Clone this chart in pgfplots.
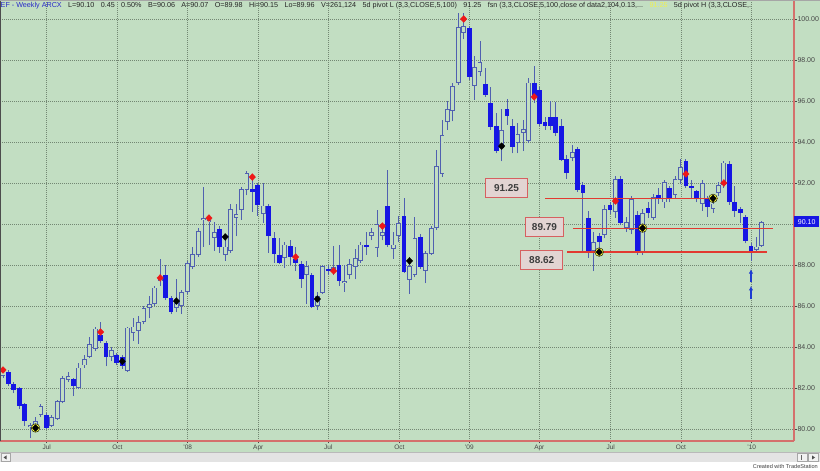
\documentclass[border=0pt]{standalone}
\usepackage{pgfplots}
\pgfplotsset{compat=1.18}
\usepackage{pgfplotstable}
\usepackage{fontspec}
\setmainfont{Liberation Sans}
\usetikzlibrary{arrows.meta}
\definecolor{bg}{RGB}{194,222,194}
\definecolor{wick}{RGB}{80,96,176}
\definecolor{body}{RGB}{22,22,228}
\definecolor{axred}{RGB}{212,112,108}
\definecolor{lvl}{RGB}{226,58,48}
\definecolor{gridc}{RGB}{115,135,115}
\definecolor{pivred}{RGB}{238,24,24}
\definecolor{tickc}{RGB}{70,70,70}
\definecolor{boxfill}{RGB}{226,212,210}
\definecolor{boxdraw}{RGB}{214,96,96}
\definecolor{arrowblue}{RGB}{30,60,210}
\definecolor{hdrblue}{RGB}{40,40,200}

\pgfplotstableread{
i O H L C
0 82.6 83.0 82.5 82.85
1 82.8 82.9 82.1 82.2
2 82.2 82.3 81.75 81.9
3 82.0 82.05 81.0 81.1
4 81.2 81.25 80.15 80.4
5 80.1 80.3 79.55 80.2
6 80.2 80.6 80.1 80.4
7 80.7 81.2 80.6 81.1
8 80.7 80.8 80.0 80.05
9 80.15 80.7 80.1 80.6
10 80.5 81.4 80.45 81.35
11 81.3 82.6 81.25 82.5
12 82.4 82.8 82.3 82.6
13 82.45 82.5 81.6 82.1
14 82.0 83.2 81.95 83.0
15 83.1 83.6 83.0 83.4
16 83.5 84.5 83.45 84.15
17 83.9 85.0 83.8 84.9
18 84.6 85.2 84.2 84.3
19 84.2 84.3 83.05 83.5
20 83.5 84.0 83.3 83.85
21 83.6 83.7 83.1 83.2
22 83.5 83.6 82.95 83.05
23 82.85 85.0 82.8 84.95
24 84.7 85.4 84.3 85.0
25 84.8 85.5 84.15 85.2
26 85.2 86.0 85.1 85.9
27 85.9 86.5 85.4 86.1
28 86.1 87.0 86.0 86.9
29 87.2 88.3 87.0 87.35
30 87.5 88.0 86.3 86.4
31 86.4 86.5 85.6 85.7
32 85.9 87.3 85.7 86.15
33 86.0 86.8 85.6 86.7
34 86.7 88.2 86.6 88.1
35 87.9 88.9 87.8 88.55
36 88.5 89.8 88.4 89.65
37 90.2 91.8 88.9 90.3
38 90.1 90.4 89.0 90.2
39 89.3 90.1 88.7 89.6
40 89.75 89.9 88.6 88.9
41 88.5 89.2 88.2 88.9
42 88.7 91.0 88.6 90.75
43 90.3 91.0 89.4 90.5
44 90.7 91.8 90.2 91.7
45 91.65 92.6 91.4 92.5
46 91.7 92.3 90.6 91.55
47 91.9 92.0 90.4 90.95
48 90.5 92.0 90.05 90.9
49 90.9 91.0 88.6 89.4
50 89.3 89.6 88.1 88.55
51 88.5 89.3 88.05 88.1
52 88.35 89.1 87.85 89.0
53 88.95 89.2 88.0 88.4
54 88.3 88.9 87.7 88.1
55 88.05 88.2 86.9 87.3
56 87.5 88.2 86.1 87.95
57 87.5 87.6 85.9 85.95
58 86.0 86.7 85.8 86.5
59 86.65 88.0 86.6 87.95
60 87.8 88.0 87.5 87.7
61 87.7 88.95 87.5 87.9
62 88.0 89.0 87.0 87.2
63 87.1 88.0 86.7 87.2
64 87.5 88.3 87.3 88.05
65 87.9 88.8 87.3 88.35
66 88.2 89.1 88.1 89.0
67 89.0 89.6 88.5 88.9
68 89.4 89.8 89.2 89.6
69 88.85 90.7 88.4 90.0
70 89.4 90.0 89.2 89.6
71 90.9 92.65 88.9 89.0
72 88.8 89.6 88.3 89.0
73 89.4 90.4 89.1 90.05
74 90.4 91.25 87.6 87.65
75 87.25 88.3 86.6 87.95
76 87.5 90.35 87.4 89.3
77 89.35 89.5 87.8 87.9
78 87.7 88.7 87.1 88.6
79 88.55 89.9 88.5 89.8
80 89.8 93.6 89.7 92.85
81 92.45 95.05 92.3 94.35
82 95.0 96.0 94.6 95.6
83 95.5 96.9 95.0 96.75
84 96.9 100.3 96.8 99.6
85 99.3 100.3 99.0 99.65
86 99.55 99.65 97.0 97.15
87 96.75 98.2 96.05 97.65
88 97.4 98.95 97.2 97.9
89 96.85 97.6 96.2 96.3
90 95.9 96.7 94.6 94.75
91 94.8 95.4 93.45 93.55
92 93.7 95.6 93.05 94.6
93 95.6 96.1 94.85 95.25
94 94.8 95.1 93.45 93.75
95 93.95 94.95 93.45 94.4
96 94.45 95.05 93.55 94.65
97 94.05 97.1 93.95 96.9
98 96.9 97.7 95.9 96.2
99 96.55 96.7 94.8 94.9
100 95.0 95.2 94.6 94.8
101 95.2 96.0 94.6 94.8
102 95.2 95.95 94.3 94.45
103 94.8 95.1 93.05 93.1
104 93.15 93.35 92.2 92.5
105 93.2 93.85 93.05 93.5
106 93.65 93.75 91.55 91.65
107 91.9 92.05 88.6 91.5
108 90.3 90.65 88.35 88.6
109 88.7 89.6 87.7 89.1
110 89.4 89.55 88.6 89.1
111 89.45 90.95 89.3 90.75
112 90.95 91.05 90.5 90.7
113 90.6 92.35 90.3 92.2
114 92.2 92.35 89.95 90.05
115 89.8 90.35 89.6 90.1
116 89.7 91.35 89.5 91.2
117 90.45 90.65 88.5 88.6
118 88.65 90.75 88.5 90.55
119 90.8 91.05 90.3 90.55
120 90.3 91.45 90.2 91.3
121 91.4 91.75 91.0 91.25
122 91.05 92.15 90.8 92.05
123 91.75 91.85 91.05 91.25
124 91.4 92.35 91.25 92.2
125 92.15 93.15 91.95 92.8
126 93.05 93.15 91.75 91.85
127 91.85 92.15 91.25 91.75
128 91.6 91.65 91.05 91.2
129 91.0 92.15 90.65 92.0
130 91.25 91.35 90.35 90.85
131 90.75 91.15 90.55 91.0
132 91.5 92.05 91.35 91.9
133 91.9 93.05 91.75 93.0
134 92.95 93.05 90.95 91.05
135 91.05 91.85 90.35 90.65
136 90.75 90.85 90.05 90.55
137 90.35 90.45 89.05 89.15
138 88.95 89.05 88.2 88.65
139 88.75 89.35 88.7 88.9
140 88.95 90.15 88.9 90.10
}\candles

\newcommand{\gap}{\hspace{6.4pt}}

\begin{document}
\begin{tikzpicture}[x=1pt,y=1pt]
\useasboundingbox (0,0) rectangle (820,471);
\fill[white] (0,0) rectangle (820,471);
\fill[bg] (0,19) rectangle (820,471);
\fill[gray!22] (0,9) rectangle (820,18.5);
\draw[gray!55, line width=0.5pt] (0,18.5) -- (820,18.5);
\begin{axis}[
  at={(0pt,471pt)}, anchor=north west,
  scale only axis, width=794pt, height=441pt,
  xmin=-0.5535, xmax=145.94, ymin=79.415, ymax=100.927,
  axis x line*=bottom, axis y line*=right,
  x axis line style={axred, line width=1.6pt, -},
  y axis line style={axred, line width=1.6pt, -},
  clip=false,
  xtick={8.06,21.09,34.08,47.10,60.02,73.12,86.03,98.95,112.12,125.09,138.13},
  xticklabels={Jul,Oct,'08,Apr,Jul,Oct,'09,Apr,Jul,Oct,'10},
  ytick={80,82,...,100},
  yticklabels={80.00,82.00,84.00,86.00,88.00,{},92.00,94.00,96.00,98.00,100.00},
  tick align=outside, major tick length=2.5pt,
  tick style={tickc, line width=0.5pt},
  grid=major,
  major grid style={gridc, line width=0.5pt, dash pattern=on 0.8pt off 1.2pt},
  xticklabel style={font=\fontsize{6.5}{7}\selectfont, text=tickc, inner sep=1pt},
  yticklabel style={font=\fontsize{7}{8}\selectfont, text=tickc, inner sep=0.8pt},
]
% wicks
\addplot[draw=none, mark=none, forget plot,
  error bars/.cd, y dir=plus, y explicit, error mark=none,
  error bar style={line width=0.9pt, draw=wick}]
  table[x=i, y=L, y error plus expr=\thisrow{H}-\thisrow{L}] {\candles};
% filled (down) bodies
\addplot[draw=none, mark=none, forget plot,
  restrict expr to domain={\thisrow{O}-\thisrow{C}}{0:100},
  error bars/.cd, y dir=both, y explicit, error mark=none,
  error bar style={line width=4.8pt, draw=body}]
  table[x=i, y expr=(\thisrow{O}+\thisrow{C})/2, y error expr=abs(\thisrow{O}-\thisrow{C})/2] {\candles};
% hollow (up) bodies
\addplot[draw=none, mark=none, forget plot,
  restrict expr to domain={\thisrow{C}-\thisrow{O}}{0:100},
  error bars/.cd, y dir=both, y explicit, error mark=none,
  error bar style={line width=4.8pt, draw=wick}]
  table[x=i, y expr=(\thisrow{O}+\thisrow{C})/2, y error expr=abs(\thisrow{C}-\thisrow{O})/2] {\candles};
\addplot[draw=none, mark=none, forget plot,
  restrict expr to domain={\thisrow{C}-\thisrow{O}}{0:100},
  error bars/.cd, y dir=both, y explicit, error mark=none,
  error bar style={line width=3.0pt, draw=bg}]
  table[x=i, y expr=(\thisrow{O}+\thisrow{C})/2, y error expr={max(abs(\thisrow{C}-\thisrow{O})/2-0.045,0)}] {\candles};
% levels
\addplot[lvl, line width=1.6pt] coordinates {(100,91.25) (131.9,91.25)};
\addplot[lvl, line width=1.6pt] coordinates {(105.2,89.79) (142.1,89.79)};
\addplot[lvl, line width=1.6pt] coordinates {(104.1,88.62) (141.0,88.62)};
% pivot markers
\addplot[only marks, mark=*, mark size=4.3pt, mark options={draw=none, fill={rgb,255:red,250;green,250;blue,60}}]
  coordinates {(6,80.05) (110,88.63) (118,89.8) (131,91.25)};
\addplot[only marks, mark=diamond*, mark size=3.4pt, color=black, mark options={xscale=1.25}]
  coordinates {(6,80.05) (22,83.3) (32,86.24) (41,89.37) (58,86.34) (75,88.2) (92,93.8) (110,88.63) (118,89.8) (131,91.25)};
\addplot[only marks, mark=diamond*, mark size=3.4pt, color=pivred, mark options={xscale=1.25}]
  coordinates {(0,82.88) (18,84.73) (29,87.37) (38,90.29) (46,92.29) (54,88.39) (61,87.71) (70,89.9) (85,100.0) (98,96.2) (113,91.12) (126,92.44) (133,92.0)};
% arrows
\addplot[arrowblue, line width=1.2pt, -{Latex[length=4.5pt,width=4.5pt]}] coordinates {(138,87.15) (138,87.8)};
\addplot[arrowblue, line width=1.2pt, -{Latex[length=4.5pt,width=4.5pt]}] coordinates {(138,86.35) (138,86.98)};
% level boxes
\tikzset{lbox/.style={draw=boxdraw, fill=boxfill, line width=1pt, minimum width=42pt, minimum height=19pt, inner sep=0pt, font=\fontsize{10}{11}\selectfont\bfseries, text={rgb,255:red,60;green,60;blue,60}}}
\node[lbox] at (axis cs:92.9,91.76) {91.25};
\node[lbox, minimum width=38pt] at (axis cs:99.9,89.85) {89.79};
\node[lbox] at (axis cs:99.4,88.25) {88.62};
% last price box
\node[fill=body, text=white, anchor=west, inner sep=1.2pt, minimum height=11pt, minimum width=25pt, font=\fontsize{7}{8}\selectfont] at (axis cs:145.94,90.10) {90.10};
\end{axis}
% left edge
\draw[black!70, line width=1.3pt] (0.65,30) -- (0.65,471);
\draw[gray!70, line width=0.6pt] (0,470.7) -- (820,470.7);
% header
\node[anchor=base west, inner sep=0pt, font=\fontsize{7.2}{8}\selectfont, text=black!85] at (-1.5,463.5)
  {{\color{hdrblue}IEF - Weekly ARCX}\gap L=90.10\gap 0.45\gap 0.50\%\gap B=90.06\gap A=90.07\gap O=89.98\gap Hi=90.15\gap Lo=89.96\gap V=261,124\gap 5d pivot L (3,3,CLOSE,5,100)\gap 91.25\gap fsn (3,3,CLOSE,5,100,close of data2,104,0.13,...\gap {\color[RGB]{240,240,80}91.25}\gap 5d pivot H (3,3,CLOSE,.};
% scroll buttons
\draw[gray!70, fill=gray!10, line width=0.4pt] (1,9.5) rectangle (10,17.5);
\fill[black!70] (3.5,13.5) -- (6.5,15.5) -- (6.5,11.5) -- cycle;
\draw[gray!70, fill=gray!10, line width=0.4pt] (797,9.5) rectangle (807,17.5);
\draw[black!60, line width=0.6pt] (801,11) -- (801,16);
\draw[gray!70, fill=gray!10, line width=0.4pt] (808,9.5) rectangle (818,17.5);
\fill[black!70] (815,13.5) -- (812,15.5) -- (812,11.5) -- cycle;
\node[anchor=base east, inner sep=0pt, font=\fontsize{5.6}{6}\selectfont, text=black!75] at (818,2.2) {Created with TradeStation};
\end{tikzpicture}
\end{document}
